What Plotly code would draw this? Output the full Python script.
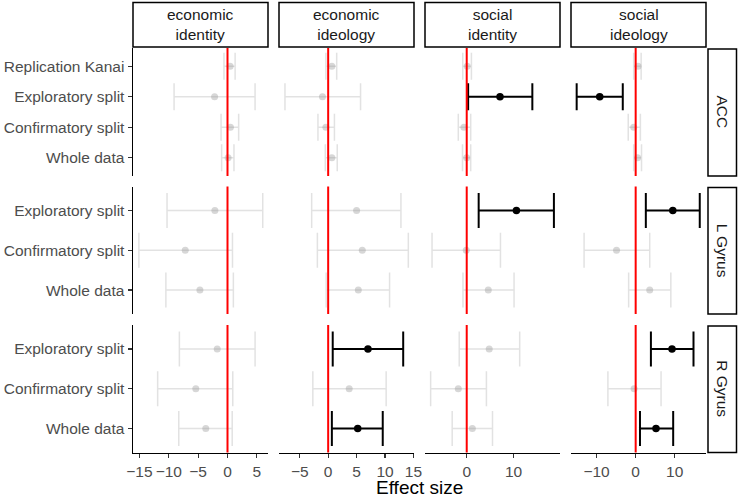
import plotly.graph_objects as go

# ---------------- data ----------------
measures = ["economic<br>identity", "economic<br>ideology", "social<br>identity", "social<br>ideology"]
rois = ["ACC", "L Gyrus", "R Gyrus"]
cats_acc = ["Whole data", "Confirmatory split", "Exploratory split", "Replication Kanai"]
cats_gyrus = ["Whole data", "Confirmatory split", "Exploratory split"]

row_roi = ["ACC", "ACC", "ACC", "ACC", "L Gyrus", "L Gyrus", "L Gyrus", "R Gyrus", "R Gyrus", "R Gyrus"]
row_analysis = ["Replication Kanai", "Exploratory split", "Confirmatory split", "Whole data",
                "Exploratory split", "Confirmatory split", "Whole data",
                "Exploratory split", "Confirmatory split", "Whole data"]

econ_identity_est = [0.45, -2.2, 0.5, 0.1, -2.15, -7.2, -4.7, -1.75, -5.4, -3.7]
econ_identity_lo = [-0.6, -9.1, -1.1, -1.0, -10.3, -15.1, -10.5, -8.2, -11.9, -8.3]
econ_identity_hi = [1.3, 4.7, 1.9, 1.1, 6.0, 0.85, 1.0, 4.7, 0.9, 0.8]

econ_ideology_est = [0.65, -1.0, -0.4, 0.65, 5.0, 6.0, 5.3, 7.0, 3.7, 5.2]
econ_ideology_lo = [-0.4, -7.6, -1.8, -0.5, -2.9, -1.9, -0.35, 0.8, -2.7, 0.65]
econ_ideology_hi = [1.5, 5.7, 1.1, 1.6, 12.8, 14.1, 10.8, 13.2, 10.2, 9.6]

social_identity_est = [0.1, 7.1, -0.6, 0.0, 10.6, -0.1, 4.6, 4.8, -1.8, 1.2]
social_identity_lo = [-0.85, 0.3, -1.8, -0.9, 2.55, -7.4, -0.8, -1.6, -7.7, -3.1]
social_identity_hi = [1.0, 14.0, 0.85, 0.85, 18.6, 7.2, 10.1, 11.3, 4.2, 5.5]

social_ideology_est = [0.6, -9.2, -0.5, 0.5, 9.5, -4.9, 3.6, 9.3, -0.4, 5.2]
social_ideology_lo = [-0.5, -15.1, -1.9, -0.5, 2.6, -13.2, -1.8, 3.9, -7.1, 1.1]
social_ideology_hi = [1.4, -3.3, 1.2, 1.5, 16.4, 3.6, 9.0, 14.8, 6.5, 9.6]

x_tickvals = [[-15, -10, -5, 0, 5], [-5, 0, 5, 10, 15], [0, 10], [-10, 0, 10]]
x_ranges = [[-16.1, 6.9], [-8.65, 15.1], [-8.9, 19.9], [-16.55, 18.0]]

series = [
    (econ_identity_est, econ_identity_lo, econ_identity_hi),
    (econ_ideology_est, econ_ideology_lo, econ_ideology_hi),
    (social_identity_est, social_identity_lo, social_identity_hi),
    (social_ideology_est, social_ideology_lo, social_ideology_hi),
]

# ---------------- layout geometry ----------------
W, H = 738, 498
col_px = [(133, 268), (279, 414), (425, 560), (571, 706)]
row_px = [(48, 176), (186.5, 314), (325, 452.5)]
FONT = "Liberation Sans, Arial, sans-serif"


def px_x(p):
    return p / W


def px_y(p):
    return 1 - p / H


fig = go.Figure()
layout = {}
shapes = []
annotations = []

for r, roi in enumerate(rois):
    cats = cats_acc if roi == "ACC" else cats_gyrus
    capw = 13.5 if roi == "ACC" else 17.5
    for c in range(4):
        idx = r * 4 + c + 1
        xname = "xaxis" if idx == 1 else f"xaxis{idx}"
        yname = "yaxis" if idx == 1 else f"yaxis{idx}"
        xref = "x" if idx == 1 else f"x{idx}"
        yref = "y" if idx == 1 else f"y{idx}"
        bottom = r == len(rois) - 1
        left = c == 0
        layout[xname] = dict(
            domain=[px_x(col_px[c][0]), px_x(col_px[c][1])],
            anchor=yref, range=x_ranges[c], showgrid=False, zeroline=False,
            automargin=False,
            showline=bottom, linecolor="black", linewidth=1.5,
            ticks="outside" if bottom else "", ticklen=4, tickwidth=1.2, tickcolor="#333333",
            tickvals=x_tickvals[c], showticklabels=bottom,
            tickfont=dict(family=FONT, size=15.5, color="#4D4D4D"),
        )
        layout[yname] = dict(
            domain=[px_y(row_px[r][1]), px_y(row_px[r][0])],
            anchor=xref, type="category", categoryorder="array", categoryarray=cats,
            range=[-0.6, len(cats) - 0.4], showgrid=False, zeroline=False,
            automargin=False,
            showline=left, linecolor="black", linewidth=1.5,
            ticks="outside" if left else "", ticklen=4, tickwidth=1.2, tickcolor="#333333",
            showticklabels=left,
            tickfont=dict(family=FONT, size=15.5, color="#4D4D4D"),
        )
        est, lo, hi = series[c]
        sel = [i for i in range(len(row_roi)) if row_roi[i] == roi]
        for sig in (False, True):
            ii = [i for i in sel if ((lo[i] > 0 or hi[i] < 0) == sig)]
            if not ii:
                continue
            fig.add_trace(go.Scatter(
                x=[est[i] for i in ii], y=[row_analysis[i] for i in ii],
                xaxis=xref, yaxis=yref, mode="markers", showlegend=False,
                marker=dict(size=7.5 if sig else 7,
                            color="black" if sig else "rgba(150,150,150,0.38)",
                            line=dict(width=0)),
                error_x=dict(type="data", symmetric=False,
                             array=[hi[i] - est[i] for i in ii],
                             arrayminus=[est[i] - lo[i] for i in ii],
                             color="black" if sig else "rgba(150,150,150,0.28)",
                             thickness=2 if sig else 1.5, width=capw),
                hoverinfo="skip",
            ))
        shapes.append(dict(type="line", xref=xref, yref=f"{yref} domain",
                           x0=0, x1=0, y0=0, y1=1, layer="above",
                           line=dict(color="red", width=2)))

# top strips
for c, m in enumerate(measures):
    shapes.append(dict(type="rect", xref="paper", yref="paper",
                       x0=px_x(col_px[c][0]), x1=px_x(col_px[c][1]),
                       y0=px_y(47), y1=px_y(2.5), fillcolor="white",
                       line=dict(color="black", width=1.5), layer="below"))
    annotations.append(dict(text=m, xref="paper", yref="paper",
                            x=px_x((col_px[c][0] + col_px[c][1]) / 2), y=px_y(25),
                            xanchor="center", yanchor="middle", showarrow=False,
                            font=dict(family=FONT, size=15.5, color="#1A1A1A")))

# right strips
for r, roi in enumerate(rois):
    shapes.append(dict(type="rect", xref="paper", yref="paper",
                       x0=px_x(708), x1=px_x(736.5),
                       y0=px_y(row_px[r][1]), y1=px_y(row_px[r][0] + 1),
                       fillcolor="white", line=dict(color="black", width=1.5), layer="below"))
    annotations.append(dict(text=roi, xref="paper", yref="paper",
                            x=px_x(722.5), y=px_y((row_px[r][0] + row_px[r][1]) / 2),
                            xanchor="center", yanchor="middle", showarrow=False, textangle=90,
                            font=dict(family=FONT, size=15.5, color="#1A1A1A")))

annotations.append(dict(text="Effect size", xref="paper", yref="paper",
                        x=px_x((col_px[0][0] + col_px[3][1]) / 2), y=px_y(487.5),
                        xanchor="center", yanchor="middle", showarrow=False,
                        font=dict(family=FONT, size=19, color="black")))

fig.update_layout(
    width=W, height=H, autosize=False,
    margin=dict(l=0, r=0, t=0, b=0),
    paper_bgcolor="white", plot_bgcolor="white",
    shapes=shapes, annotations=annotations, showlegend=False,
    **layout,
)

fig.write_html("out.html", config={"displayModeBar": False, "staticPlot": True},
               post_script="document.body.style.margin='0';document.body.style.overflow='hidden';")
